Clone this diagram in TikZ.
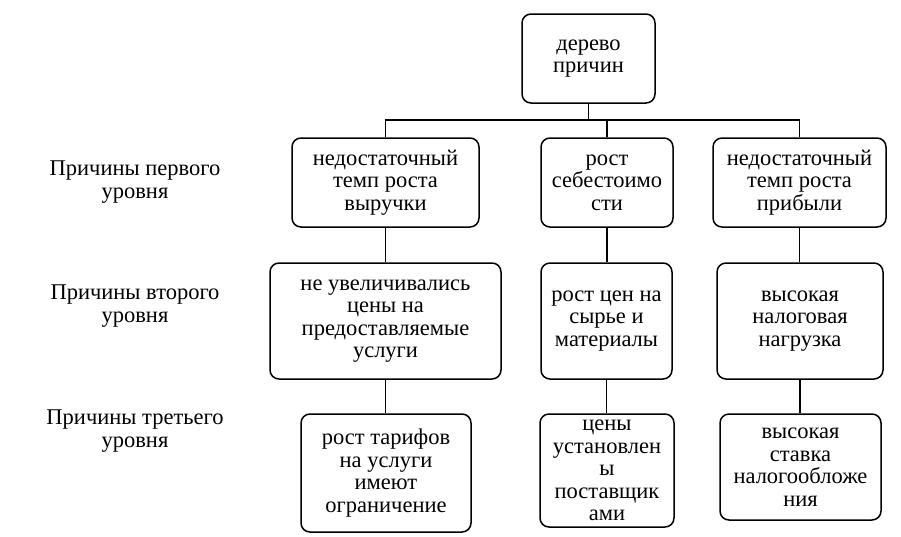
\documentclass[tikz,border=0pt]{standalone}
\usepackage{fontspec}
\setmainfont{Liberation Serif}
\begin{document}
\begin{tikzpicture}[x=1pt,y=-1pt,
  box/.style={draw=black,line width=1.5pt,rounded corners=9pt,align=center,inner sep=0pt,
    font=\fontsize{22.5}{22.5}\selectfont},
  lvl/.style={align=center,inner sep=0pt,font=\fontsize{22.5}{22.5}\selectfont},
  conn/.style={draw=black,line width=1.5pt}]
\useasboundingbox (0,0) rectangle (901,536);
\node[box,minimum width=133pt,minimum height=89pt] (root) at (588.5,58.5) {дерево\\причин};
\node[box,minimum width=187pt,minimum height=89pt] (l1a) at (385.5,182.5) {недостаточный\\темп роста\\выручки};
\node[box,minimum width=132pt,minimum height=89pt] (l1b) at (607,182.5) {рост\\себестоимо\\сти};
\node[box,minimum width=173pt,minimum height=89pt] (l1c) at (799.5,182.5) {недостаточный\\темп роста\\прибыли};
\node[box,minimum width=231pt,minimum height=116pt] (l2a) at (385.5,321) {не увеличивались\\цены на\\предоставляемые\\услуги};
\node[box,minimum width=131pt,minimum height=116pt] (l2b) at (606.5,321) {рост цен на\\сырье и\\материалы};
\node[box,minimum width=166pt,minimum height=116pt] (l2c) at (800,321) {высокая\\налоговая\\нагрузка};
\node[box,minimum width=170pt,minimum height=118pt] (l3a) at (386,473) {рост тарифов\\на услуги\\имеют\\ограничение};
\node[box,minimum width=134pt,minimum height=113pt] (l3b) at (607,470.5) {цены\\установлен\\ы\\поставщик\\ами};
\node[box,minimum width=161pt,minimum height=106pt] (l3c) at (800.5,467) {высокая\\ставка\\налогообложе\\ния};
\node[lvl] (t1) at (135,182) {Причины первого\\уровня};
\node[lvl] (t2) at (135,306) {Причины второго\\уровня};
\node[lvl] (t3) at (135,431) {Причины третьего\\уровня};
\coordinate (bus) at (588.5,120);
\draw[conn] (root.south) -- (bus);
\draw[conn] (l1a.north) |- (bus);
\draw[conn] (l1c.north) |- (bus);
\draw[conn] (l1b.north) -- (l1b.north |- bus);
\draw[conn] (l1a.south) -- (l1a.south |- l2a.north);
\draw[conn] (l1b.south) -- (l1b.south |- l2b.north);
\draw[conn] (l1c.south) -- (l1c.south |- l2c.north);
\draw[conn] (l2a.south) -- (l2a.south |- l3a.north);
\draw[conn] (l2b.south) -- (l2b.south |- l3b.north);
\draw[conn] (l2c.south) -- (l2c.south |- l3c.north);
\end{tikzpicture}
\end{document}
